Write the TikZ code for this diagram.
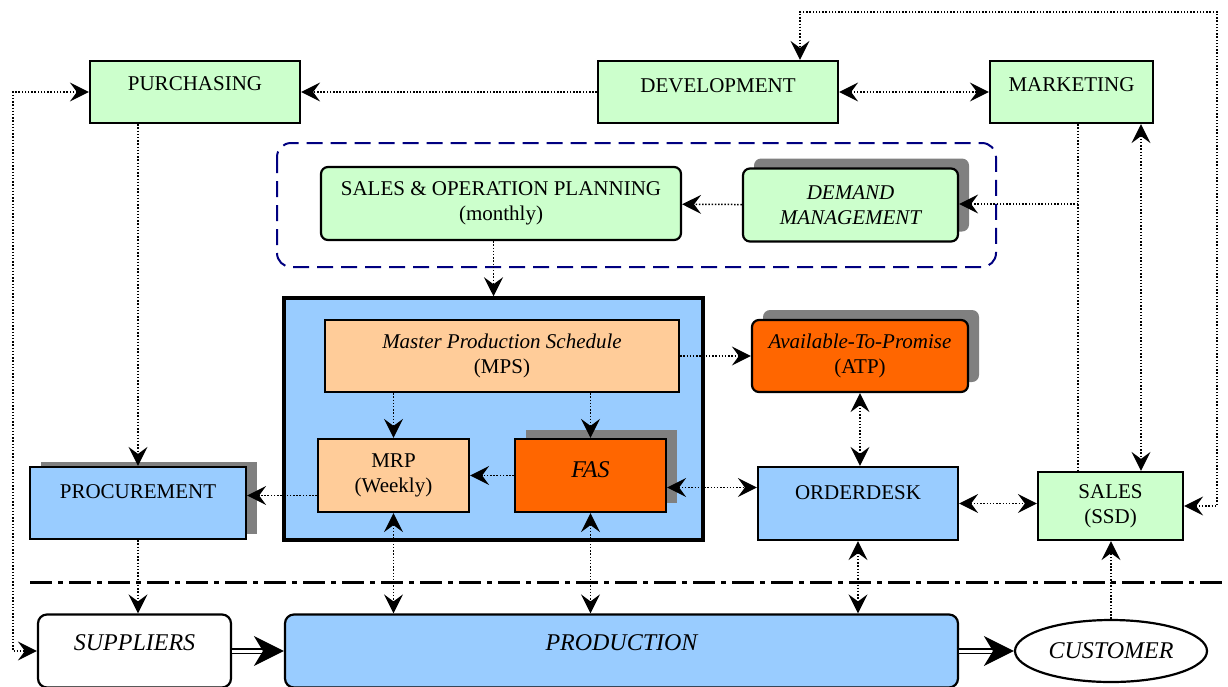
\documentclass[tikz,border=0pt]{standalone}
\usepackage{fontspec}
\setmainfont{Liberation Serif}
\usetikzlibrary{arrows.meta,shadows,shapes.geometric}
\definecolor{boxgreen}{HTML}{CCFFCC}
\definecolor{boxblue}{HTML}{99CCFF}
\definecolor{boxpeach}{HTML}{FFCC99}
\definecolor{boxorange}{HTML}{FF6600}
\definecolor{framenavy}{HTML}{000080}

\begin{document}
\begin{tikzpicture}[x=1pt,y=-1pt,
    font=\fontsize{21}{25}\selectfont,
    >={Stealth[length=19pt,width=19pt,inset=7pt]},
    box/.style={draw=black,line width=2.2pt,inner sep=2pt,align=center},
    greenbox/.style={box,fill=boxgreen},
    bluebox/.style={box,fill=boxblue},
    peachbox/.style={box,fill=boxpeach},
    orangebox/.style={box,fill=boxorange},
    raised/.style={text height=14pt,text depth=#1},
    shade/.style={drop shadow={shadow xshift=11pt,shadow yshift=#1,fill=black!50,opacity=1}},
    shade/.default=9pt,
    bigtext/.style={font=\fontsize{24}{28}\selectfont\itshape},
    link/.style={line width=1.5pt,dash pattern=on 1.5pt off 1.7pt,->},
    dlink/.style={link,<->},
    plain/.style={line width=1.5pt,dash pattern=on 1.5pt off 1.7pt},
    flow/.style={double,double distance=3pt,line width=1.3pt,-{Stealth[length=30pt,width=30pt,inset=9pt]}}]
  \clip (0,0) rectangle (1228,686);

  \draw[framenavy,line width=2pt,dash pattern=on 16pt off 8pt,rounded corners=14pt] (277,143) rectangle (996,267);
  \draw[line width=3pt,dash pattern=on 22pt off 6pt on 5pt off 6pt] (30,582) -- (1228,582);

  \node[greenbox,minimum width=210pt,minimum height=62pt,raised=18pt] (purch) at (195,92) {PURCHASING};
  \node[greenbox,minimum width=240pt,minimum height=62pt,raised=14pt] (devel) at (718,92) {DEVELOPMENT};
  \node[greenbox,minimum width=163pt,minimum height=62pt,raised=16pt] (market) at (1071.5,92) {MARKETING};

  \node[greenbox,rounded corners=7pt,minimum width=360pt,minimum height=73pt] (sop) at (501,203.5) {SALES \& OPERATION PLANNING\\(monthly)};
  \node[greenbox,rounded corners=7pt,shade=10pt,minimum width=215pt,minimum height=73pt,font=\fontsize{21}{25}\selectfont\itshape] (demand) at (850.5,205) {DEMAND\\MANAGEMENT};

  \node[bluebox,line width=3.5pt,minimum width=419pt,minimum height=242pt] (mpc) at (493.5,419) {};
  \node[peachbox,minimum width=354pt,minimum height=72pt] (mps) at (502,356) {\textit{Master Production Schedule}\\(MPS)};
  \node[peachbox,minimum width=151pt,minimum height=73pt] (mrp) at (393.5,475.5) {MRP\\(Weekly)};
  \node[orangebox,shade,bigtext,minimum width=151pt,minimum height=73pt,raised=11pt] (fas) at (590.5,475.5) {FAS};
  \node[orangebox,rounded corners=7pt,shade=10pt,minimum width=216pt,minimum height=72pt] (atp) at (860,356) {\textit{Available-To-Promise}\\(ATP)};

  \node[bluebox,shade=5pt,minimum width=216pt,minimum height=72pt,raised=24pt] (procure) at (138,503) {PROCUREMENT};
  \node[bluebox,minimum width=200pt,minimum height=73pt,raised=23pt] (order) at (858,503.5) {ORDERDESK};
  \node[greenbox,minimum width=145pt,minimum height=68pt] (sales) at (1110.5,506) {SALES\\(SSD)};

  \node[box,fill=white,rounded corners=9pt,bigtext,minimum width=193pt,minimum height=73pt,raised=16pt] (supp) at (134.5,651) {SUPPLIERS};
  \node[bluebox,rounded corners=9pt,bigtext,minimum width=673pt,minimum height=73pt,raised=16pt] (prod) at (621.5,651) {PRODUCTION};
  \node[box,ellipse,fill=white,bigtext,minimum width=192pt,minimum height=62pt,inner sep=0pt] (cust) at (1111,651) {CUSTOMER};

  \coordinate (rturn) at (1217,12);
  \coordinate (lturn) at (13,651);
  \coordinate (mturn) at (1078,204);
  \coordinate (mlink) at (1141,0);

  \draw[link] (devel) -- (purch);
  \draw[dlink] (devel) -- (market);
  \draw[dlink] (sales.east) -| (rturn) -| ([xshift=82pt]devel.north);
  \draw[dlink] (purch.west) -| (lturn) -- (supp.west);
  \draw[link] (procure.north |- purch.south) -- (procure.north);
  \draw[link] (procure.south) -- (procure.south |- supp.north);
  \draw[link] ([yshift=-20pt]mrp.west) -- ([yshift=-20pt]mrp.west -| procure.east);
  \draw[link] (fas) -- (mrp);
  \draw[link] (mrp.north |- mps.south) -- (mrp.north);
  \draw[link] (fas.north |- mps.south) -- (fas.north);
  \draw[link] (mps) -- (atp);
  \draw[dlink] (atp.south) -- (atp.south |- order.north);
  \draw[dlink] ([yshift=-12pt]fas.east) -- ([yshift=-12pt]fas.east -| order.west);
  \draw[dlink] (order.east) -- (order.east -| sales.west);
  \draw[dlink] (mrp.south) -- (mrp.south |- prod.north);
  \draw[dlink] (fas.south) -- (fas.south |- prod.north);
  \draw[dlink] (order.south) -- (order.south |- prod.north);
  \draw[link] (cust.north) -- (cust.north |- sales.south);
  \draw[plain] (mturn |- market.south) -- (mturn |- sales.north);
  \draw[link] (mturn) -- (mturn -| demand.east);
  \draw[dlink] (mlink |- market.south) -- (mlink |- sales.north);
  \draw[link] (demand) -- (sop);
  \draw[link] (mpc.north |- sop.south) -- (mpc.north);
  \draw[flow] (supp) -- (prod);
  \draw[flow] (prod) -- (cust);
\end{tikzpicture}
\end{document}
